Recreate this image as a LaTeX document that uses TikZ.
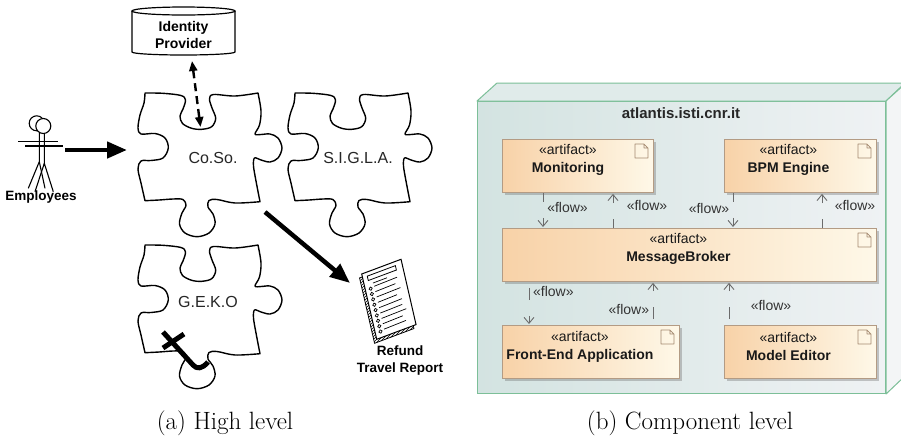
\documentclass[tikz,border=0pt]{standalone}
\usepackage{fontspec}
\newfontfamily\arial{Liberation Sans}
\usetikzlibrary{arrows.meta,shadows,patterns}

\definecolor{hostedge}{HTML}{7CBF98}
\definecolor{hostleft}{HTML}{D3E3E1}
\definecolor{hostright}{HTML}{EFF2F4}
\definecolor{hosttop}{HTML}{E0EBEA}
\definecolor{hostside}{HTML}{F3F5F6}
\definecolor{artleft}{HTML}{F8D2A8}
\definecolor{artright}{HTML}{FEF8E8}
\definecolor{artedge}{HTML}{B39B84}
\definecolor{flowgray}{HTML}{6B6B6B}
\definecolor{iconedge}{HTML}{A58A70}

\tikzset{
  piece/.style={draw=black, line width=1.4pt, fill=white, line join=round},
  piecetext/.style={font=\arial\fontsize{16}{19}\selectfont, text=black!85, inner sep=0pt},
  sanslabel/.style={font=\arial\bfseries\fontsize{13.5}{17}\selectfont, align=center, inner sep=0pt},
  bigarrow/.style={line width=4.5pt, -{Triangle[length=20pt,width=16pt]}},
  dashedlink/.style={line width=2.4pt, dash pattern=on 8pt off 5pt,
    {Triangle[length=10pt,width=8pt]}-{Triangle[length=10pt,width=8pt]}},
  stick/.style={line width=1.1pt},
  artifact/.style={draw=artedge, line width=0.9pt, left color=artleft, right color=artright,
    inner sep=0pt, anchor=north west, minimum height=53pt,
    drop shadow={shadow xshift=2.5pt, shadow yshift=-2.5pt, opacity=0.35, fill=black!60}},
  arttext/.style={font=\arial\fontsize{14}{18}\selectfont, align=center, text=black!90, inner sep=0pt},
  flow/.style={draw=flowgray, line width=0.9pt, shorten >=1pt, -{Straight Barb[length=6pt,width=10pt]}},
  flowshort/.style={flow, dash pattern=on 9pt off 16pt on 30pt},
  flowlong/.style={flow, dash pattern=on 0pt off 6pt on 12pt off 16pt on 30pt},
  flowtext/.style={font=\arial\fontsize{14}{16}\selectfont, text=black!80, inner sep=0pt},
  caption/.style={font=\fontsize{25}{30}\selectfont, inner sep=0pt},
  puzzle/.pic={
    \draw[piece]
      plot[smooth,tension=.55] coordinates {(0,0) (18,0.3) (36,2.5) (40.5,7) (38,16) (35,23) (37.5,30.5) (46.7,35.3) (56.7,36.3) (66.7,33.7) (70.7,25.3) (67,15) (64.5,6) (68.5,1.5) (90,3) (113,0)}
      -- plot[smooth,tension=.55] coordinates {(113,0) (116,18) (114.5,32) (110,41) (116,41.5) (125,41) (133,45) (137,55) (133,65) (125,69) (116,67) (109.5,65) (108.5,73) (111,88) (115,108.7)}
      -- plot[smooth,tension=.55] coordinates {(115,108.7) (90,110) (72,106.5) (64,107.5) (63,114) (68,121) (70,131) (64,140) (52,143.7) (40,140) (34.5,131) (37,120) (41,112.5) (38,106.5) (28,106) (14,107) (0,107.7)}
      -- plot[smooth,tension=.55] coordinates {(0,107.7) (-4,90) (-7,76) (-4,68) (6,67.5) (18,65) (23.3,55) (20,45) (10,40.5) (-4,41) (-7,35) (-5,22) (-1,10) (0,0)}
      -- cycle;
  },
  docicon/.pic={
    \draw[iconedge, line width=0.8pt, line join=round]
      (-13,0) -- (-4,0) -- (0,4) -- (0,14) -- (-13,14) -- cycle
      (-4,0) -- (-4,4) -- (0,4);
  },
}

\begin{document}
\begin{tikzpicture}[x=1pt, y=-1pt]
\clip (0,0) rectangle (901,440);
\fill[white] (0,0) rectangle (901,440);

% ---------- high level view ----------
\pic at (145,93) {puzzle};
\pic at (295,93) {puzzle};
\pic at (145,245) {puzzle};
\node[piecetext] (coso) at (213,158) {Co.So.};
\node[piecetext] (sigla) at (358,158) {S.I.G.L.A.};
\node[piecetext] (geko) at (208,302) {G.E.K.O};

% broken joint on the G.E.K.O piece
\draw[line width=5pt] (163,348) -- (184,334);
\draw[line width=5pt, line join=round] (163,332) -- (193,365) .. controls (197,369.5) and (202,369) .. (208,362);

% identity provider store
\draw[line width=1.2pt, fill=white] (132,11) -- (132,52) arc[start angle=180, end angle=0, x radius=51.5, y radius=3] -- (235,11);
\draw[line width=1.2pt, fill=white] (183.5,11) ellipse[x radius=51.5, y radius=4];
\node[sanslabel, font=\arial\bfseries\fontsize{14}{17}\selectfont] (idp) at (183.5,34.5) {Identity\\Provider};
\coordinate (idpout) at (192,61);
\coordinate (cosotop) at (200.5,127);
\draw[dashedlink] (idpout) -- (cosotop);

% employees
\begin{scope}[stick]
  \draw (36.7,123.3) circle[radius=7.5];
  \draw (18.3,141.7) -- (58.3,141.7);
  \draw (39.3,130.8) -- (39.3,161.7) -- (28.3,188.3) (39.3,161.7) -- (45,188.3);
  \draw[fill=white] (43.3,126) circle[radius=7.5];
  \draw (25,146) -- (63.3,146);
  \draw (44.3,133.5) -- (44.3,163.3) -- (35,191.7) (44.3,163.3) -- (53.3,191.7);
\end{scope}
\node[sanslabel] (emp) at (41,197) {Employees};
\coordinate (empout) at (65,150);
\coordinate (cosoin) at (127,150);
\draw[bigarrow] (empout) -- (cosoin);

% refund travel report sheet
\begin{scope}[shift={(361.7,274)}, x={(0.9366pt,0.3503pt)}, y={(0.2239pt,-0.9746pt)}]
  \draw[line width=0.8pt, fill=white, postaction={pattern=north east lines}]
    (-3,3) -- (39,3) -- (39,70) -- (-3,70) -- cycle;
  \draw[line width=1pt, fill=white] (0,0) -- (42,0) -- (42,67) -- (0,67) -- cycle;
  \draw[line width=0.8pt] (5,4) -- (35,4) -- (35,8.5) -- (5,8.5) -- cycle;
  \draw[line width=0.7pt] (9,12.5) -- (24,12.5);
  \foreach \r/\l in {17/34,22.5/31,28/35,33.5/30,39/34,44.5/33,50/36,55.5/31,61/33}{
    \draw[line width=0.7pt] (5.5,\r) circle[radius=1.7];
    \draw[line width=0.7pt] (9.5,\r-1) -- (\l,\r-1.5);
  }
\end{scope}
\node[sanslabel] (rep) at (400,360.5) {Refund\\Travel Report};
\coordinate (cosoout) at (265,212);
\coordinate (repin) at (350,283);
\draw[bigarrow] (cosoout) -- (repin);

\node[caption] (capa) at (225,423) {(a) High level};

% ---------- component level view ----------
\node[draw=hostedge, line width=1pt, left color=hostleft, right color=hostright,
      minimum width=408pt, minimum height=292pt, inner sep=0pt, anchor=north west] (host) at (477,101) {};
\draw[hostedge, line width=1pt, fill=hosttop, line join=round]
  (host.north west) -- ++(20,-18) -- ++(408,0) -- (host.north east) -- cycle;
\draw[hostedge, line width=1pt, fill=hostside, line join=round]
  (host.north east) -- ++(20,-18) -- ++(0,292) -- (host.south east) -- cycle;
\node[font=\arial\bfseries\fontsize{15}{18}\selectfont, text=black!85, inner sep=0pt] (hostname) at (681,113) {atlantis.isti.cnr.it};

\node[artifact, minimum width=151pt] (mon) at (502,139) {};
\node[artifact, minimum width=152pt] (bpm) at (724,139) {};
\node[artifact, minimum width=374pt] (mb) at (502,228) {};
\node[artifact, minimum width=177pt] (fe) at (502,325) {};
\node[artifact, minimum width=152pt] (me) at (724,325) {};

\foreach \b in {mon,bpm,mb,fe,me}{
  \pic at ([xshift=-6pt,yshift=-5pt]\b.north east) {docicon};
}

\node[arttext] (monl) at ([xshift=-10pt,yshift=6pt]mon.center) {«artifact»\\\textbf{Monitoring}};
\node[arttext] (bpml) at ([xshift=-12pt,yshift=6pt]bpm.center) {«artifact»\\\textbf{BPM Engine}};
\node[arttext] (mbl) at ([xshift=-11pt,yshift=6.5pt]mb.center) {«artifact»\\\textbf{MessageBroker}};
\node[arttext] (fel) at ([xshift=-11pt,yshift=5.5pt]fe.center) {«artifact»\\\textbf{Front-End Application}};
\node[arttext] (mel) at ([xshift=-12pt,yshift=5.5pt]me.center) {«artifact»\\\textbf{Model Editor}};

\draw[flowshort] ([xshift=41pt]mon.south west) -- ([xshift=41pt]mb.north west);
\draw[flowshort] ([xshift=111pt]mb.north west) -- ([xshift=111pt]mon.south west);
\draw[flowshort] ([xshift=9pt]bpm.south west) -- ([xshift=231pt]mb.north west);
\draw[flowshort] ([xshift=320pt]mb.north west) -- ([xshift=98pt]bpm.south west);
\draw[flowlong] ([xshift=27pt]mb.south west) -- ([xshift=27pt]fe.north west);
\draw[flowlong] ([xshift=151pt]fe.north west) -- ([xshift=151pt]mb.south west);
\draw[flowlong] ([xshift=5pt]me.north west) -- ([xshift=227pt]mb.south west);

\node[flowtext] (fl1) at (567.5,207.7) {«flow»};
\node[flowtext] (fl2) at (647,205) {«flow»};
\node[flowtext] (fl3) at (709,208.3) {«flow»};
\node[flowtext] (fl4) at (855,205) {«flow»};
\node[flowtext] (fl5) at (553.3,291.7) {«flow»};
\node[flowtext] (fl6) at (628.8,309) {«flow»};
\node[flowtext] (fl7) at (771,305) {«flow»};

\node[caption] (capb) at (690,423) {(b) Component level};
\end{tikzpicture}
\end{document}
